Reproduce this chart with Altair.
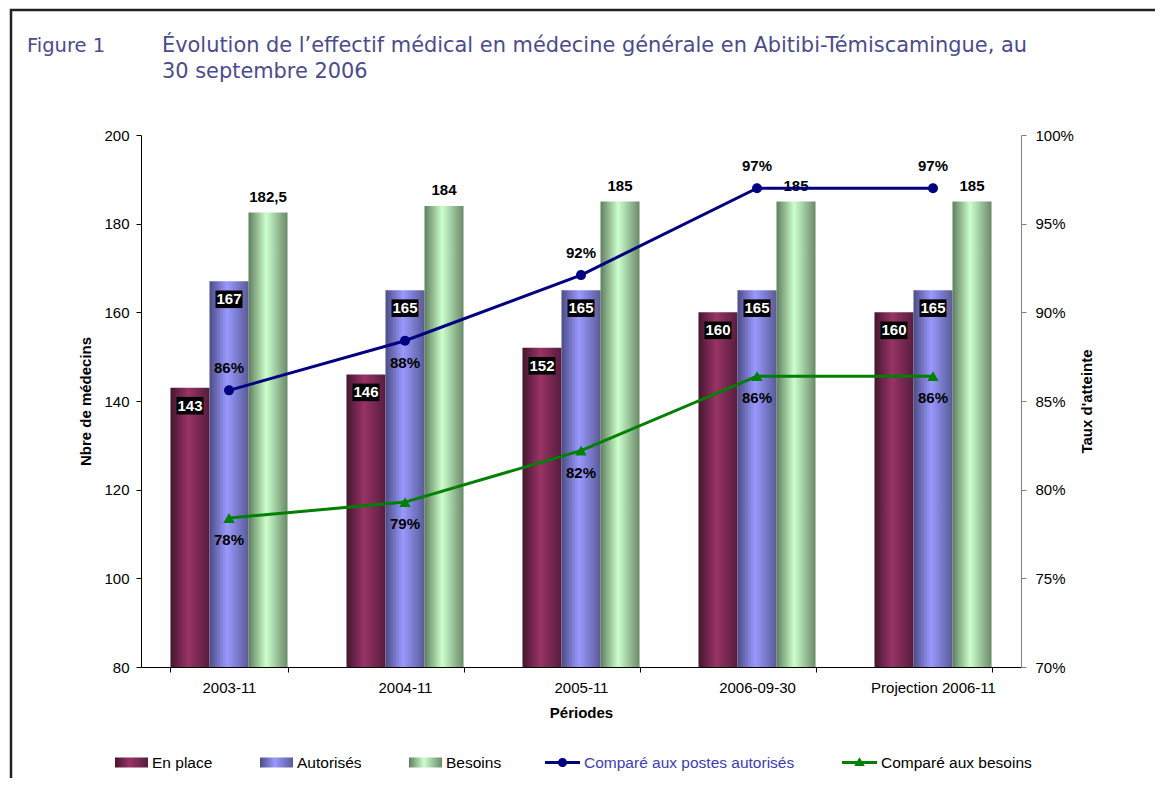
import altair as alt
import pandas as pd

# ---------------- data ----------------
periods = ["2003-11", "2004-11", "2005-11", "2006-09-30", "Projection 2006-11"]
bar_series = ["En place", "Autorisés", "Besoins"]
en_place = [143, 146, 152, 160, 160]
autorises = [167, 165, 165, 165, 165]
besoins = [182.5, 184, 185, 185, 185]
besoins_labels = ["182,5", "184", "185", "185", "185"]

line_series = ["Comparé aux postes autorisés", "Comparé aux besoins"]
taux_autorises = [0.856, 0.884, 0.921, 0.970, 0.970]
taux_besoins = [0.784, 0.793, 0.822, 0.864, 0.864]

fig_label = "Figure 1"
title_text = ("Évolution de l\u2019effectif médical en médecine générale en Abitibi-Témiscamingue, au\n"
              "30 septembre 2006")

bars_df = pd.DataFrame({
    "period": periods * 3,
    "series": [s for s in bar_series for _ in periods],
    "value": en_place + autorises + besoins,
    "label": [str(v) for v in en_place] + [str(v) for v in autorises] + besoins_labels,
})
lines_df = pd.DataFrame({
    "period": periods * 2,
    "series": [s for s in line_series for _ in periods],
    "taux": taux_autorises + taux_besoins,
})

FONT = "Liberation Sans"
TITLE_FONT = "DejaVu Sans"
BAR_PATH = "M-1,-0.3L1,-0.3L1,0.3L-1,0.3Z"
BOX_PATH = "M-1,-0.65L1,-0.65L1,0.65L-1,0.65Z"
LINE_CIRCLE = ("M-1,-0.086L1,-0.086L1,0.086L-1,0.086Z "
               "M0.26,0A0.26,0.26 0 1,1 -0.26,0A0.26,0.26 0 1,1 0.26,0Z")
LINE_TRIANGLE = ("M-1,-0.086L1,-0.086L1,0.086L-1,0.086Z "
                 "M0,-0.3L0.3,0.2L-0.3,0.2Z")


def grad(c0, c1, c2):
    return {"expr": "{gradient:'linear',x1:0,y1:0,x2:1,y2:0,stops:["
                    f"{{offset:0,color:'{c0}'}},{{offset:0.45,color:'{c1}'}},{{offset:1,color:'{c2}'}}]}}"}


bar_fills = [grad("#45162f", "#993366", "#561d3d"),
             grad("#4c4c86", "#9999ff", "#5a5a98"),
             grad("#5e7e5e", "#ccffcc", "#6a8a6a")]

X = alt.X("period:N", sort=periods,
          scale=alt.Scale(domain=periods, paddingInner=0.335, paddingOuter=0.1675),
          axis=alt.Axis(title="Périodes", labelAngle=0, tickBand="extent", labelPadding=8,
                        titlePadding=10))
XO = alt.XOffset("series:N", sort=bar_series,
                 scale=alt.Scale(domain=bar_series, paddingInner=0, paddingOuter=0))
YL = alt.Y("value:Q", scale=alt.Scale(domain=[80, 200], nice=False, zero=False),
           axis=alt.Axis(title="Nbre de médecins", values=[80, 100, 120, 140, 160, 180, 200],
                         labelPadding=7, titlePadding=10))
YR = alt.Y("taux:Q", scale=alt.Scale(domain=[0.70, 1.0], nice=False, zero=False),
           axis=alt.Axis(title="Taux d'atteinte", orient="right", format=".0%",
                         values=[0.70, 0.75, 0.80, 0.85, 0.90, 0.95, 1.0],
                         titleAngle=270, labelPadding=9, titlePadding=21,
                         domainColor="#808080", tickColor="#808080"))

bars = alt.Chart(bars_df).mark_bar(opacity=1, clip=True).encode(
    x=X, xOffset=XO, y=YL,
    fill=alt.Fill("series:N", sort=bar_series,
                  scale=alt.Scale(domain=bar_series, range=bar_fills),
                  legend=alt.Legend(title=None, orient="none", legendX=-26, legendY=611,
                                    direction="horizontal", symbolType=BAR_PATH,
                                    symbolSize=1089, symbolStrokeWidth=0, symbolOpacity=1,
                                    labelFont=FONT, labelFontSize=15.5, labelColor="black",
                                    labelOffset=4, columnPadding=47, labelLimit=300)),
)

boxes = alt.Chart(bars_df).transform_filter(
    alt.FieldOneOfPredicate(field="series", oneOf=["En place", "Autorisés"])
).mark_point(shape=BOX_PATH, size=729, filled=True, color="black", opacity=1, yOffset=18).encode(
    x=X, xOffset=XO, y=YL)
box_text = alt.Chart(bars_df).transform_filter(
    alt.FieldOneOfPredicate(field="series", oneOf=["En place", "Autorisés"])
).mark_text(color="white", font=FONT, fontSize=15, fontWeight="bold", baseline="middle",
            yOffset=18).encode(x=X, xOffset=XO, y=YL, text="label:N")
top_text = alt.Chart(bars_df).transform_filter(
    alt.FieldEqualPredicate(field="series", equal="Besoins")
).mark_text(color="black", font=FONT, fontSize=15, fontWeight="bold", baseline="middle",
            yOffset=-16).encode(x=X, xOffset=XO, y=YL, text="label:N")

border = alt.Chart(pd.DataFrame({"b": [0]})).mark_rect(
    filled=False, stroke="#222222", strokeWidth=2.5).encode(
    x=alt.value(-130), y=alt.value(-125), x2=alt.value(1300), y2=alt.value(1000))
fig_txt = alt.Chart(pd.DataFrame({"t": [fig_label]})).mark_text(
    align="left", baseline="alphabetic", font=TITLE_FONT, fontSize=19.5, color="#4b4b8c"
).encode(x=alt.value(-114), y=alt.value(-83), text="t:N")
title_txt = alt.Chart(pd.DataFrame({"t": [title_text]})).mark_text(
    align="left", baseline="alphabetic", font=TITLE_FONT, fontSize=20.9, color="#4b4b8c",
    lineBreak="\n", lineHeight=26
).encode(x=alt.value(21), y=alt.value(-83), text="t:N")

left = alt.layer(bars, boxes, box_text, top_text, border, fig_txt, title_txt)

blue = "#000080"
green = "#008000"
ldf = alt.Chart(lines_df)
f_blue = alt.FieldEqualPredicate(field="series", equal=line_series[0])
f_green = alt.FieldEqualPredicate(field="series", equal=line_series[1])

blue_line = ldf.transform_filter(f_blue).mark_line(color=blue, strokeWidth=3).encode(x=X, y=YR)
blue_pts = ldf.transform_filter(f_blue).mark_point(shape="circle", filled=True, size=100,
                                                   color=blue, opacity=1).encode(x=X, y=YR)
green_line = ldf.transform_filter(f_green).mark_line(color=green, strokeWidth=3).encode(x=X, y=YR)
green_pts = ldf.transform_filter(f_green).mark_point(shape="triangle-up", filled=True, size=130,
                                                     color=green, opacity=1).encode(x=X, y=YR)

lab_style = dict(color="black", font=FONT, fontSize=15, fontWeight="bold", baseline="middle")
blue_above = ldf.transform_filter(f_blue).transform_filter(
    alt.datum.period != "2004-11").mark_text(dy=-22, **lab_style).encode(
    x=X, y=YR, text=alt.Text("taux:Q", format=".0%"))
blue_below = ldf.transform_filter(f_blue).transform_filter(
    alt.datum.period == "2004-11").mark_text(dy=22, **lab_style).encode(
    x=X, y=YR, text=alt.Text("taux:Q", format=".0%"))
green_below = ldf.transform_filter(f_green).mark_text(dy=22, **lab_style).encode(
    x=X, y=YR, text=alt.Text("taux:Q", format=".0%"))

line_legend = alt.Legend(title=None, orient="none", legendX=404, legendY=610,
                         direction="horizontal", symbolSize=1225, symbolStrokeWidth=0,
                         symbolOpacity=1, labelFont=FONT, labelFontSize=15.5, labelLimit=300,
                         labelColor={"expr": "datum.value == 'Comparé aux postes autorisés' ? '#3c3cb4' : 'black'"},
                         labelOffset=4, columnPadding=47)
legend_dummy = ldf.mark_point(filled=True, size=0, opacity=1).encode(
    x=X, y=YR,
    color=alt.Color("series:N", sort=line_series,
                    scale=alt.Scale(domain=line_series, range=[blue, green]),
                    legend=line_legend),
    shape=alt.Shape("series:N", sort=line_series,
                    scale=alt.Scale(domain=line_series, range=[LINE_CIRCLE, LINE_TRIANGLE]),
                    legend=line_legend),
)

right = alt.layer(blue_line, green_line, blue_pts, green_pts,
                  blue_above, blue_below, green_below, legend_dummy)

chart = alt.layer(left, right).resolve_scale(y="independent").properties(
    width=880, height=532,
    autosize=alt.AutoSizeParams(type="none"),
    padding={"left": 133, "top": 127, "right": 134, "bottom": 111},
    background="white",
).configure_view(stroke=None).configure_axis(
    labelFont=FONT, labelFontSize=15, labelColor="black",
    titleFont=FONT, titleFontSize=15, titleFontWeight="bold", titleColor="black",
    domainColor="black", tickColor="black", tickSize=5, grid=False,
)

chart.save("out.html", embed_options={"renderer": "svg", "actions": False})
